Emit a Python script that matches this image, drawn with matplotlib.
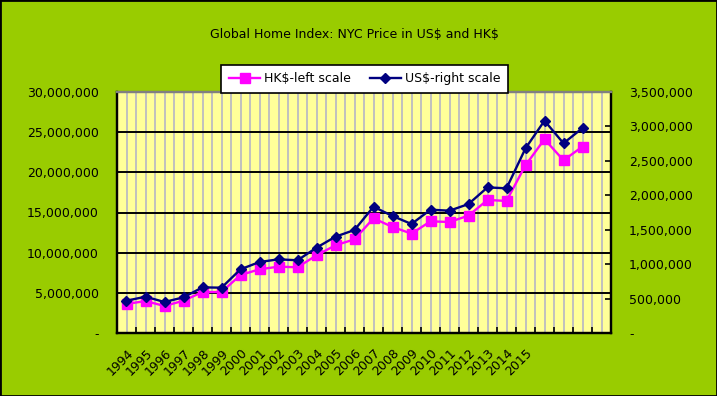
import matplotlib

matplotlib.use("Agg")

import matplotlib.pyplot as plt
from matplotlib.patches import Rectangle
from matplotlib.ticker import FixedLocator, FuncFormatter

# Werte
years = [str(y) for y in range(1994, 2016)]
hk_price = [3.61, 3.98, 3.36, 4.02, 5.10, 5.10, 7.22, 7.93, 8.26, 8.18, 9.67, 10.92, 11.66,
            14.28, 13.20, 12.37, 13.90, 13.82, 14.61, 16.56, 16.44, 20.88, 24.12, 21.50, 23.20]
us_price = [0.469, 0.527, 0.450, 0.518, 0.663, 0.658, 0.925, 1.031, 1.070, 1.056, 1.239, 1.399, 1.496,
            1.834, 1.699, 1.583, 1.791, 1.776, 1.873, 2.115, 2.101, 2.682, 3.083, 2.755, 2.977]
n_categories = 26

BG = "#99CC00"
PLOT_BG = "#FFFF99"


def money_fmt(v, pos=None):
    if abs(v) < 1:
        return "-"
    return f"{v:,.0f}"


fig = plt.figure(figsize=(7.17, 3.96), dpi=100, facecolor=BG)
ax = fig.add_axes([117 / 717, 63 / 396, 494 / 717, 241 / 396])
ax.set_facecolor(PLOT_BG)
ax2 = ax.twinx()

xs = [i + 0.5 for i in range(len(hk_price))]
hk_vals = [v * 1e6 for v in hk_price]
us_vals = [v * 1e6 for v in us_price]

# Gitter: grau vertikal (halbe Kategorien), schwarz horizontal
for k in range(1, 2 * n_categories):
    ax.axvline(k * 0.5, color="#C0C0C0", linewidth=1.4, zorder=1)
for yv in range(5, 30, 5):
    ax.axhline(yv * 1e6, color="black", linewidth=1.4, zorder=2)

l1, = ax.plot(xs, hk_vals, color="#FF00FF", linewidth=1.7, marker="s", markersize=6.5,
              markeredgecolor="#FF00FF", zorder=4, label="HK\\$-left scale")
l2, = ax2.plot(xs, us_vals, color="#000080", linewidth=1.7, marker="D", markersize=5,
               markeredgecolor="#000080", zorder=5, label="US\\$-right scale")

ax.set_xlim(0, n_categories)
ax.set_ylim(0, 30e6)
ax2.set_ylim(0, 3.5e6)
ax.set_yticks([i * 5e6 for i in range(7)])
ax2.set_yticks([i * 5e5 for i in range(8)])
ax.yaxis.set_major_formatter(FuncFormatter(money_fmt))
ax2.yaxis.set_major_formatter(FuncFormatter(money_fmt))
ax.tick_params(axis="y", length=0, pad=13, labelsize=9)
ax2.tick_params(axis="y", direction="in", length=4, width=1.2, pad=13, labelsize=9)

ax.xaxis.set_major_locator(FixedLocator(range(n_categories + 1)))
ax.xaxis.set_minor_locator(FixedLocator([i + 0.5 for i in range(len(years))]))
ax.set_xticklabels([], minor=False)
ax.set_xticklabels(years, minor=True, rotation=45, ha="right", rotation_mode="anchor", fontsize=9)
ax.tick_params(axis="x", which="major", direction="in", length=4, width=1.2)
ax.tick_params(axis="x", which="minor", length=0, pad=10)

for a in (ax, ax2):
    for side in ("left", "right", "bottom"):
        a.spines[side].set_linewidth(1.6)
        a.spines[side].set_color("black")
    a.spines["top"].set_color("#808080")
    a.spines["top"].set_linewidth(1.6)

fig.text(0.495, 1 - 34 / 396, "Global Home Index: NYC Price in US\\$ and HK\\$",
         ha="center", va="center", fontsize=9)

leg = fig.legend(handles=[l1, l2], loc="center", bbox_to_anchor=(364.5 / 717, 1 - 78.5 / 396),
                 ncol=2, fontsize=9, frameon=True, fancybox=False, handlelength=2.5,
                 columnspacing=1.5, borderpad=0.6, handletextpad=0.3, framealpha=1)
leg.get_frame().set_facecolor("white")
leg.get_frame().set_edgecolor("black")
leg.get_frame().set_linewidth(1.2)

fig.patches.append(Rectangle((0, 0), 1, 1, transform=fig.transFigure, fill=False,
                             edgecolor="black", linewidth=2))

plt.savefig("out.png", dpi=100, facecolor=BG)
plt.close()
